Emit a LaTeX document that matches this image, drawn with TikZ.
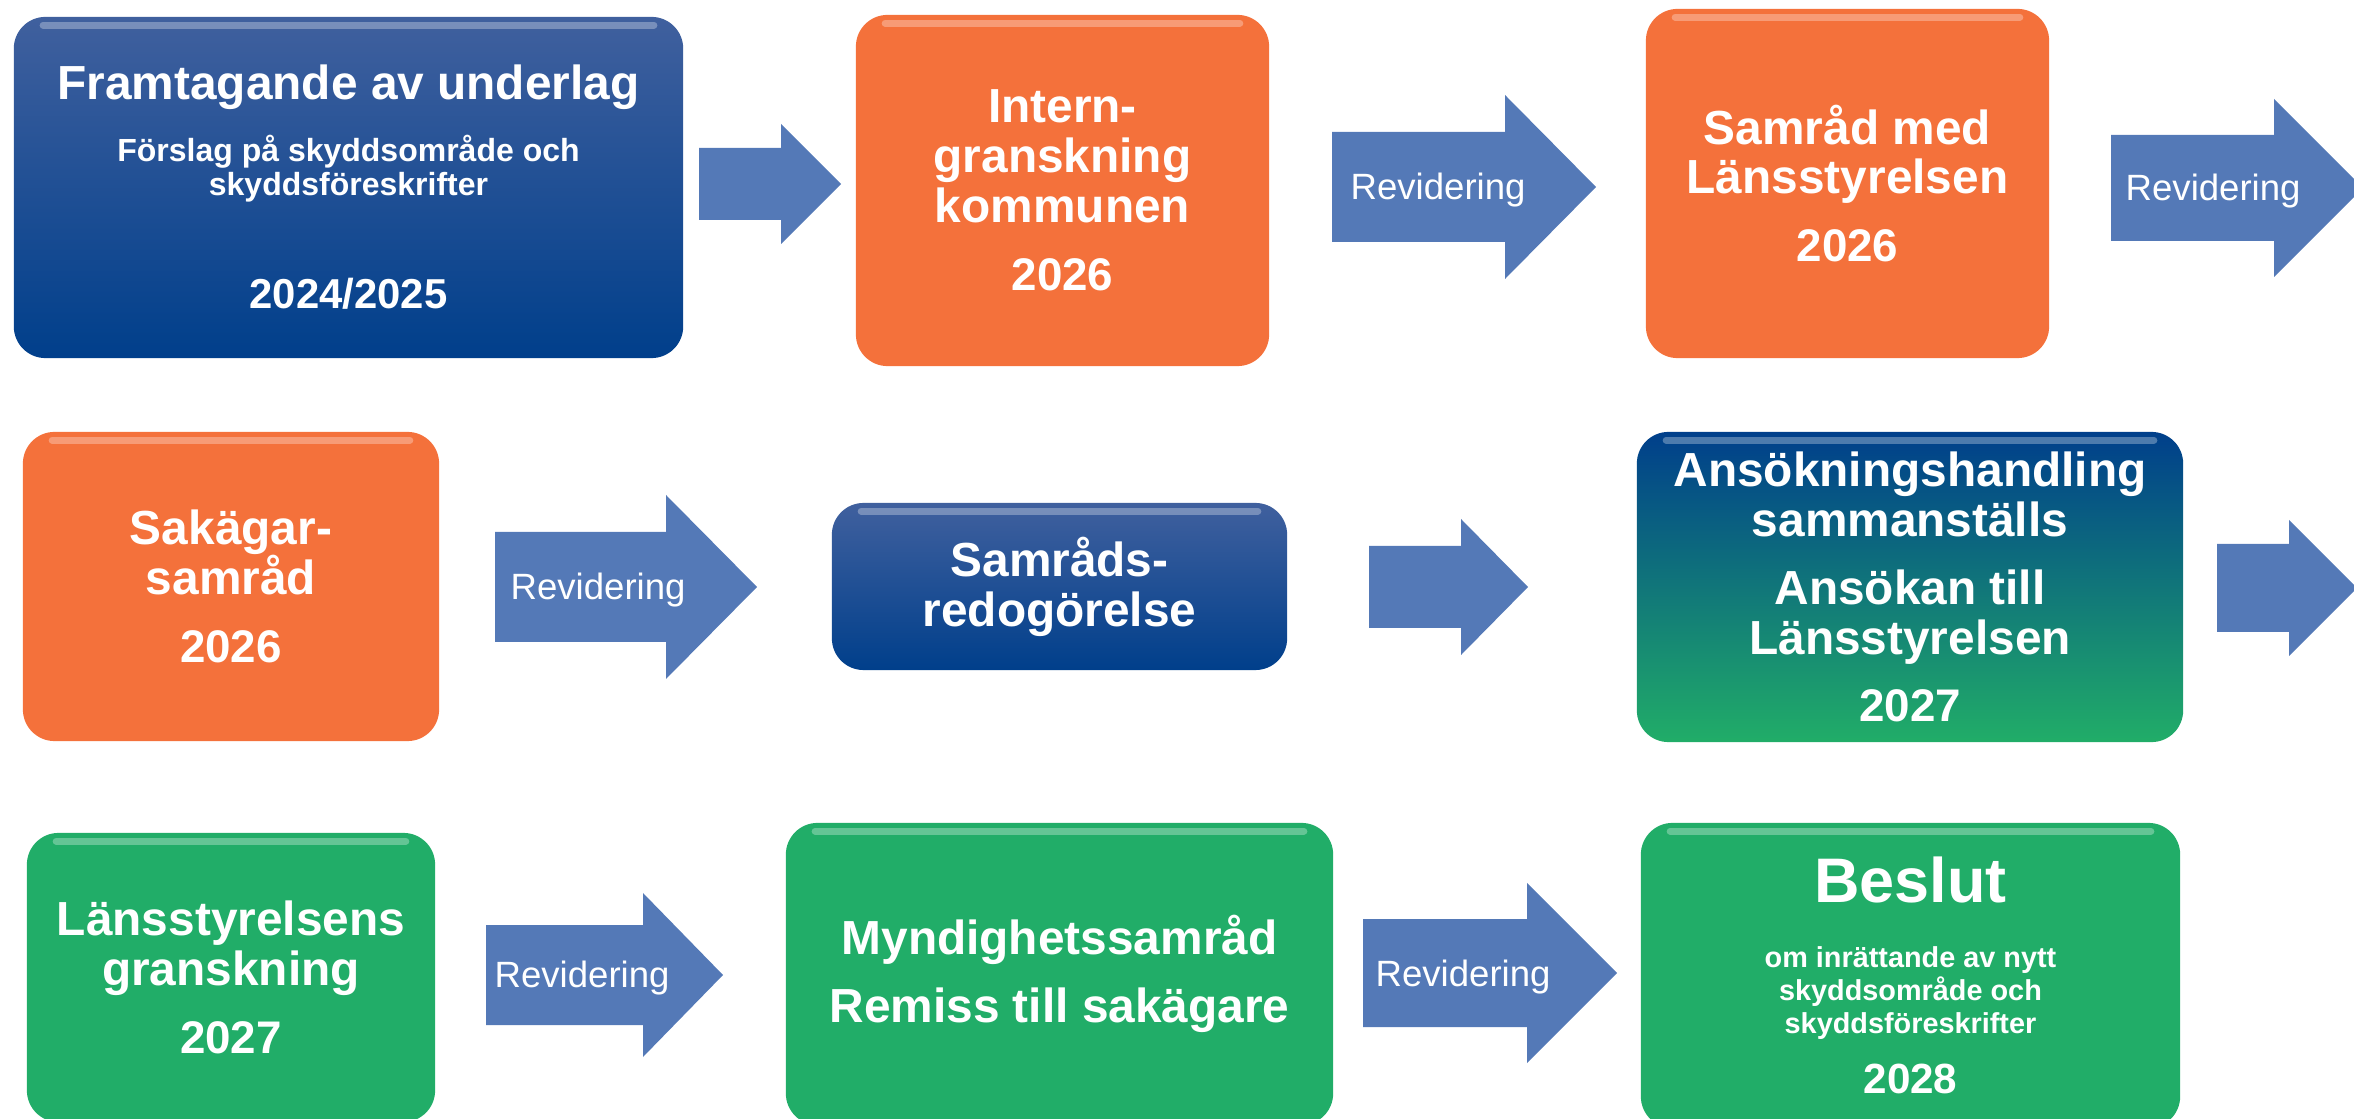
\documentclass[tikz,border=0pt]{standalone}
\usepackage{fontspec}
\setmainfont{Liberation Sans}
\usepackage{tikz}
\usetikzlibrary{positioning}
\definecolor{navy}{HTML}{003F8B}
\definecolor{navyhi}{HTML}{40609E}
\definecolor{orng}{HTML}{F4713B}
\definecolor{grn}{HTML}{21AD68}
\definecolor{tealmid}{HTML}{007C7A}
\definecolor{arrowblue}{HTML}{5479B7}
\tikzset{%
    stepbox/.style={%
        rounded corners=9pt, inner sep=2pt, align=center, text=white,
        font=\bfseries\fontsize{13.6}{14.2}\selectfont
    },
    navybox/.style={stepbox, top color=navyhi, middle color=navy, bottom color=navy},
    orngbox/.style={stepbox, fill=orng},
    grnbox/.style={stepbox, fill=grn},
    gloss/.style={white, opacity=0.3, line width=2pt, line cap=round},
    revtext/.style={anchor=base west, inner sep=0pt, text=white,
        font=\fontsize{10.4}{12}\selectfont}
}
\newcommand{\blockarrow}[6]{%
    \fill[arrowblue] (#1,#4-#5) -- (#2,#4-#5) -- (#2,#4-#6) -- (#3,#4)
        -- (#2,#4+#6) -- (#2,#4+#5) -- (#1,#4+#5) -- cycle;}
\newcommand{\yr}[1]{{\fontsize{13}{14}\selectfont #1}}

\begin{document}
\begin{tikzpicture}[x=0.01cm, y=-0.01cm]
    \useasboundingbox (0,0) rectangle (2354,1119);
    \clip (0,0) rectangle (2354,1119);

    % row 1
    \node[navybox, minimum width=6.69cm, minimum height=3.41cm,
        font=\bfseries\fontsize{9.1}{9.7}\selectfont] (underlag) at (348.5,187.5)
        {{\fontsize{13.6}{14}\selectfont Framtagande av underlag}\\[6.2pt]
         Förslag på skyddsområde och\\ skyddsföreskrifter\\[20.7pt]
         {\fontsize{11.9}{12}\selectfont 2024/2025}};
    \node[orngbox, minimum width=4.13cm, minimum height=3.51cm] (intern) at (1062.5,190.5)
        {Intern-\\ granskning\\ kommunen\\[5.1pt] \yr{2026}};
    \node[orngbox, minimum width=4.03cm, minimum height=3.49cm] (samrad) at (1847.5,183.5)
        {Samråd med\\ Länsstyrelsen\\[5.1pt] \yr{2026}};

    \blockarrow{699}{781}{841}{184}{36}{60}
    \blockarrow{1332}{1505}{1596}{187}{55}{92}
    \node[revtext] (rev1) at (1350,200) {Revidering};
    \blockarrow{2111}{2274}{2363}{188}{53}{89}
    \node[revtext] (rev2) at (2125,201) {Revidering};

    % row 2
    \node[orngbox, minimum width=4.16cm, minimum height=3.09cm] (sakagar) at (231,586.5)
        {Sakägar-\\ samråd\\[5.1pt] \yr{2026}};
    \node[navybox, minimum width=4.55cm, minimum height=1.67cm] (redog) at (1059.5,586.5)
        {Samråds-\\ redogörelse};
    \node[stepbox, top color=navy, middle color=tealmid, bottom color=grn,
        minimum width=5.46cm, minimum height=3.10cm] (ansokan) at (1910,587)
        {Ansökningshandling\\ sammanställs\\[5.1pt] Ansökan till\\ Länsstyrelsen\\[5.1pt] \yr{2027}};

    \blockarrow{495}{666}{757}{587}{55}{92}
    \node[revtext] (rev3) at (510,600) {Revidering};
    \blockarrow{1369}{1461}{1528}{587}{41}{68}
    \blockarrow{2217}{2289}{2357}{588}{44}{68}

    % row 3
    \node[grnbox, minimum width=4.08cm, minimum height=2.89cm] (lstgransk) at (231,977.5)
        {Länsstyrelsens\\ granskning\\[5.1pt] \yr{2027}};
    \node[grnbox, minimum width=5.47cm, minimum height=3.02cm] (myndsamrad) at (1059.5,974)
        {Myndighetssamråd\\[5.1pt] Remiss till sakägare};
    \node[grnbox, minimum width=5.39cm, minimum height=3.05cm,
        font=\bfseries\fontsize{8.2}{9.4}\selectfont] (beslut) at (1910.5,975.5)
        {{\fontsize{17.9}{18}\selectfont Beslut}\\[9.1pt]
         om inrättande av nytt\\ skyddsområde och\\ skyddsföreskrifter\\[6pt]
         {\fontsize{12}{13}\selectfont 2028}};

    \blockarrow{486}{643}{723}{975}{50}{82}
    \node[revtext] (rev4) at (494,988) {Revidering};
    \blockarrow{1363}{1527}{1617}{973}{54}{90}
    \node[revtext] (rev5) at (1375,986) {Revidering};

    % top highlight
    \foreach \b in {underlag,intern,samrad,sakagar,redog,ansokan,lstgransk,myndsamrad,beslut}
        \draw[gloss] ([xshift=0.3cm,yshift=-0.09cm]\b.north west) -- ([xshift=-0.3cm,yshift=-0.09cm]\b.north east);
\end{tikzpicture}
\end{document}
